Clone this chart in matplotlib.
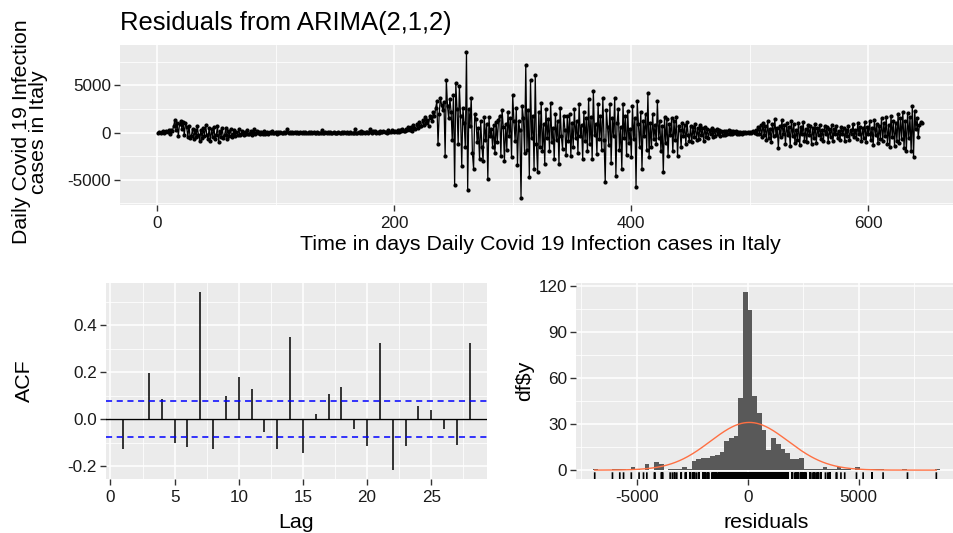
import numpy as np
import matplotlib
matplotlib.use("Agg")
import matplotlib.pyplot as plt
from matplotlib.ticker import MultipleLocator

plt.rcParams['font.family'] = ['Liberation Sans', 'DejaVu Sans']

# ---------------- data ----------------
title_text = "Residuals from ARIMA(2,1,2)"
top_ylabel = "Daily Covid 19 Infection\ncases in Italy"
top_xlabel = "Time in days Daily Covid 19 Infection cases in Italy"

# residual series (one row per week)
residuals = [
    0, 50, -30, 80, 120, -60, 40,
    150, 90, 280, -120, 310, 200, 650,
    1300, 320, 1050, -350, 880, 1250, 420,
    1100, -250, 980, 600, -450, 700, -600,
    -380, 420, -700, 250, -520, 650, -300,
    -850, 300, -600, 520, -400, 780, -250,
    -650, 450, -900, 350, -500, 600, -700,
    -300, 700, -1000, 200, -450, 500, -600,
    -250, 450, -700, 150, -350, 400, -450,
    -200, 300, -350, 100, -250, 350, -300,
    -150, 200, -300, 80, -200, 250, -180,
    -100, 150, -250, 60, 350, -150, 120,
    -80, 100, -200, 50, -120, 180, -100,
    -60, 80, -150, 40, -90, 120, -70,
    -40, 60, -110, 30, -60, 90, -50,
    -30, 40, -80, 20, 350, -60, 40,
    -20, 30, -70, 10, -40, 60, -30,
    -30, 20, -60, 15, -35, 50, -25,
    -20, 25, -50, 10, -30, 40, -20,
    -15, 20, -40, 5, -25, 300, -20,
    -10, 15, -35, 10, -20, 30, -15,
    -20, 10, -30, 5, -15, 25, -10,
    -10, 15, -25, 10, -20, 20, -15,
    -15, 10, -20, 5, -10, 350, -60,
    -20, 40, -30, 150, -40, 60, -20,
    30, 60, -20, 80, 350, -80, 200,
    20, 150, -50, 90, -30, 120, 60,
    40, 180, 100, 60, -80, 220, 110,
    60, 250, 120, 30, 180, 80, 250,
    100, 300, 150, 350, 200, 120, 400,
    250, 550, 300, 600, 200, 750, 450,
    350, 900, 500, 1100, 650, 700, 1300,
    800, 1600, 1000, 1300, 700, 1800, 1500,
    1200, 2200, 1700, 2600, 3300, -1200, 2000,
    3700, 2900, 2400, 3200, -2450, 5600, 2800,
    1500, 3600, 2200, -800, 4000, -5600, 5200,
    2500, -1200, 4900, 1800, -3500, 2600, 1000,
    -1500, 8500, -6100, 2500, 700, 3700, -2200,
    -3850, 2000, 1400, -1000, 500, -2800, 1200,
    -1500, -3000, 1600, -800, 900, -4900, 1600,
    -400, 350, -1500, 800, -2200, 1100, -1000,
    1300, 1800, -2500, 2400, 600, -3000, 900,
    -1800, 2200, -400, 1500, -2600, 4000, 1200,
    -900, 2600, -3400, 1200, 300, -6900, 2800,
    1500, -2200, 7200, -1800, 2400, -4700, 5600,
    -600, 1800, -3850, 6100, -1200, -4200, 2200,
    -1500, 3100, -2000, 900, -3300, 2500, -600,
    1400, -1900, 3150, -1000, 500, -2800, 2000,
    -800, 1200, -3300, 2600, -400, -1750, 1800,
    300, -2400, 1750, -900, 2000, -2450, 1000,
    -1500, 2500, -600, 1200, -2200, 3000, -400,
    800, -2800, 2200, -900, 1500, -2000, 3500,
    -1200, 1600, -2800, 4370, -300, 900, -2300,
    3000, -700, 1700, -1800, 3700, -800, -5250,
    2400, 600, -1300, 3000, -3200, 1500, -400,
    3670, -4550, 1000, 2500, -1800, 600, -3900,
    3000, -600, 1800, -2400, 2270, -1100, 400,
    -2600, 2800, -700, 1500, -5770, 3300, 900,
    -1500, 2200, -3850, 1200, -400, 2000, -1800,
    4200, -2600, 1000, -1500, 2000, -700, 800,
    -1200, 3300, -600, 1200, -2000, 700, -4200,
    1600, -1100, 1400, -2450, 900, -300, 1500,
    -2000, 1200, -800, 1600, -2450, 700, 300,
    -1500, 1000, -400, 800, -1200, 1100, -300,
    -900, 700, -1000, 600, -500, 900, -800,
    500, -700, 800, -300, 450, -900, 600,
    -500, 400, -600, 300, -200, 500, -450,
    300, -400, 350, -150, 250, -350, 200,
    -250, 200, -300, 150, -100, 250, -200,
    150, -200, 200, -80, 120, -180, 100,
    -100, 80, -120, 60, -50, 90, -70,
    40, -60, 50, -30, 20, 150, -40,
    300, -200, 600, -150, 800, -500, 1000,
    -300, 700, -800, 1200, -600, 400, -1000,
    900, -400, 1400, -300, 500, -1600, 700,
    -500, 1300, -200, 800, -1200, 1000, -300,
    600, -1400, 1200, -400, 900, -1100, 300,
    -800, 1000, -1300, 600, -200, 1100, -900,
    400, -1000, 800, -300, 700, -1200, 500,
    -600, 900, -1100, 500, -300, 800, -700,
    300, -900, 700, -200, 600, -1000, 400,
    -500, 800, -900, 400, -200, 700, -600,
    200, -800, 600, -100, 500, -900, 300,
    -400, 700, -800, 300, -100, 900, -500,
    300, -700, 1000, -200, 600, -900, 500,
    -600, 1100, -1000, 600, -200, 1200, -800,
    500, -1300, 1300, -300, 900, -1100, 700,
    -700, 1500, -900, 1000, -400, 1600, -1200,
    800, -1500, 1800, -500, 1200, -1400, 1000,
    -900, 2000, -1100, 1500, -700, 2200, -1600,
    1200, -1900, 2100, -600, 1600, -2000, 2800,
    -2600, 2300, 400, 1500, -500, 800, 1100,
    1000,
]

acf_lags = list(range(1, 29))
acf_values = [-0.127, 0.0, 0.194, 0.085, -0.102, -0.120, 0.541, -0.127,
              0.099, 0.178, 0.130, -0.053, -0.127, 0.348, -0.144, 0.022,
              0.106, 0.137, -0.042, -0.113, 0.323, -0.217, -0.115, 0.057,
              0.039, -0.042, -0.109, 0.323]
acf_ci = 0.0772

bin_width = 211
hist_first_bin = -33   # first bin starts at hist_first_bin * bin_width
hist_counts = [
    1, 0, 0, 0, 1, 1, 1, 0, 2, 1, 0, 4, 0, 5, 4, 0, 1, 1, 1, 2, 1,   # -33 .. -13
    6, 7, 8, 8, 9, 10, 12, 19, 21, 22, 47, 116,                      # -12 .. -1
    104, 48, 37, 26, 13, 21, 17, 14, 11, 7, 7, 8,                    # 0 .. 11
    1, 1, 1, 1, 2, 1, 1, 2, 1, 1, 0, 2, 0, 1, 1, 1, 1,               # 12 .. 28
    0, 0, 0, 0, 1, 0, 0, 0, 0, 0, 0, 1,                              # 29 .. 40
]
curve_mean = 70
curve_sd = 1750

# ---------------- styling helpers ----------------
W, H = 954, 533
fig = plt.figure(figsize=(W / 100, H / 100), dpi=100)

PANEL = '#EBEBEB'
BASE = 15.4
TICK_FS = BASE * 0.8


def rect(l, t, r, b):
    return [l / W, 1 - b / H, (r - l) / W, (b - t) / H]


def gg_style(ax, xmaj, ymaj):
    ax.set_facecolor(PANEL)
    for s in ax.spines.values():
        s.set_visible(False)
    ax.xaxis.set_major_locator(MultipleLocator(xmaj))
    ax.xaxis.set_minor_locator(MultipleLocator(xmaj / 2))
    ax.yaxis.set_major_locator(MultipleLocator(ymaj))
    ax.yaxis.set_minor_locator(MultipleLocator(ymaj / 2))
    ax.grid(which='major', color='white', lw=1.1, zorder=0)
    ax.grid(which='minor', color='white', lw=0.55, zorder=0)
    ax.set_axisbelow(True)
    ax.tick_params(which='major', length=4, width=1.0, color='#333333',
                   labelsize=TICK_FS, labelcolor='#1a1a1a', pad=2.5)
    ax.tick_params(axis='x', which='major', pad=4)
    ax.tick_params(which='minor', length=0)


# ---------------- top: residual series ----------------
ax1 = fig.add_axes(rect(120, 45, 960, 205))
gg_style(ax1, 200, 5000)
t = np.arange(1, len(residuals) + 1)
ax1.plot(t, residuals, color='black', lw=0.9, zorder=3)
ax1.plot(t, residuals, 'o', color='black', ms=2.0, zorder=4)
n = len(residuals)
rng = max(residuals) - min(residuals)
ax1.set_xlim(1 - 0.05 * (n - 1), n + 0.05 * (n - 1))
ax1.set_ylim(min(residuals) - 0.05 * rng, max(residuals) + 0.05 * rng)
ax1.set_yticks([-5000, 0, 5000])
ax1.set_yticklabels(['-5000', '0', '5000'])
fig.text(120 / W, 1 - 30 / H, title_text, fontsize=BASE * 1.2,
         ha='left', va='baseline')
fig.text(540 / W, 1 - 244 / H, top_xlabel, fontsize=BASE,
         ha='center', va='center')
fig.text(30 / W, 1 - 132 / H, top_ylabel, fontsize=BASE, rotation=90,
         ha='center', va='center', multialignment='center', linespacing=0.9)

# ---------------- bottom left: ACF ----------------
ax2 = fig.add_axes(rect(106, 283, 487, 479))
gg_style(ax2, 5, 0.2)
ax2.axhline(0, color='black', lw=1.0, zorder=2)
ax2.vlines(acf_lags, 0, acf_values, color='black', lw=1.1, zorder=3)
for c in (acf_ci, -acf_ci):
    ax2.axhline(c, color='#0000ff', lw=1.1, ls=(0, (4, 3)), zorder=3)
lag_span = max(acf_lags) - min(acf_lags)
ax2.set_xlim(min(acf_lags) - 0.05 * lag_span, max(acf_lags) + 0.05 * lag_span)
arng = max(acf_values) - min(acf_values)
ax2.set_ylim(min(acf_values) - 0.05 * arng, max(acf_values) + 0.05 * arng)
ax2.set_xticks([0, 5, 10, 15, 20, 25])
ax2.set_yticks([-0.2, 0.0, 0.2, 0.4])
ax2.set_yticklabels(['-0.2', '0.0', '0.2', '0.4'])
ax2.set_xlabel('Lag', fontsize=BASE, labelpad=6)
fig.text(24 / W, 1 - 381 / H, 'ACF', fontsize=BASE, rotation=90,
         ha='center', va='center')

# ---------------- bottom right: histogram ----------------
ax3 = fig.add_axes(rect(576, 283, 957, 479))
gg_style(ax3, 5000, 30)
edges = (hist_first_bin + np.arange(len(hist_counts))) * bin_width
ax3.bar(edges, hist_counts, width=bin_width, align='edge',
        color='#595959', edgecolor='none', zorder=2)
xx = np.linspace(min(residuals), max(residuals), 512)
yy = len(residuals) * bin_width * np.exp(-0.5 * ((xx - curve_mean) / curve_sd) ** 2) / (curve_sd * np.sqrt(2 * np.pi))
ax3.plot(xx, yy, color='#ff7043', lw=1.0, zorder=4)
ax3.plot(np.repeat(residuals, 3), np.tile([0, 0.03, np.nan], len(residuals)),
         color='black', lw=1.2, transform=ax3.get_xaxis_transform(), zorder=5)
lo = edges[0]
hi = edges[-1] + bin_width
ax3.set_xlim(lo - 0.05 * (hi - lo), hi + 0.05 * (hi - lo))
cmax = max(hist_counts)
ax3.set_ylim(-0.05 * cmax, 1.05 * cmax)
ax3.set_xticks([-5000, 0, 5000])
ax3.set_xticklabels(['-5000', '0', '5000'])
ax3.set_yticks([0, 30, 60, 90, 120])
ax3.set_xlabel('residuals', fontsize=BASE, labelpad=6)
fig.text(525 / W, 1 - 381 / H, 'df$y', fontsize=BASE, rotation=90,
         ha='center', va='center')

fig.savefig('out.png', dpi=100)
